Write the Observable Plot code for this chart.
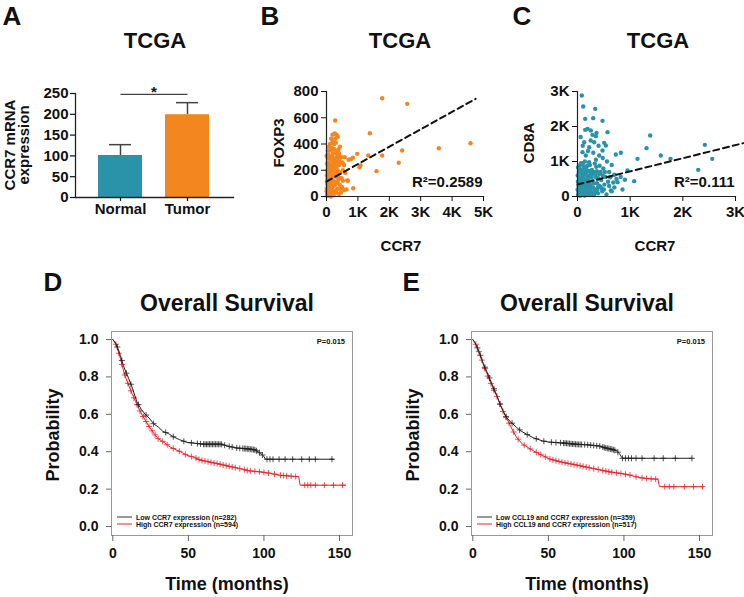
<!DOCTYPE html>
<html><head><meta charset="utf-8">
<script src="https://cdn.jsdelivr.net/npm/d3@7"></script>
<script src="https://cdn.jsdelivr.net/npm/@observablehq/plot@0.6"></script>
<style>
body{margin:0;background:#fff;}
#fig{position:relative;width:744px;height:597px;overflow:hidden;background:#fff;font-family:"Liberation Sans",Arial,sans-serif;font-weight:bold;color:#111;}
.lbl{position:absolute;white-space:nowrap;line-height:1;transform:translate(-50%,-50%);}
.rot{transform:translate(-50%,-50%) rotate(-90deg);text-align:center;}
.box{position:absolute;}
.leg{position:absolute;white-space:nowrap;line-height:1;font-size:7px;transform:translateY(-50%);display:flex;align-items:center;}
.leg span.ln{display:inline-block;width:15px;height:0;border-top:1px solid;margin-right:4px;}
</style></head><body><div id="fig"></div><script>
// ---------- Panel A data ----------
const barCategories = ["Normal", "Tumor"];
const barMeans = [101, 199];
const barErrors = [26, 29];
const barColors = ["#2a93a9", "#f3861f"];
const barYTicks = [0, 50, 100, 150, 200, 250];
const barSignificance = 248;

// ---------- Panel B data (CCR7 vs FOXP3) ----------
const pointsB = [
[1773,749],[2570,706],[277,579],[1380,482],[2410,350],[1773,312],[1330,312],[978,325],[1083,236],[1050,222],
[2300,257],[1592,193],[3577,368],[4586,406],[850,63],[637,53],[659,122],[780,285],[840,295],[580,300],[700,280],
[20,20],[35,45],[50,10],[60,80],[15,110],[80,30],[95,60],[40,150],[70,120],[110,90],[130,20],[25,200],[55,230],
[90,180],[120,140],[150,60],[160,110],[180,30],[200,150],[45,260],[75,290],[100,250],[140,210],[170,190],[190,240],
[210,80],[230,120],[250,170],[260,40],[30,300],[65,320],[115,300],[150,280],[185,310],[220,260],[240,220],[270,250],
[290,190],[300,100],[320,150],[340,60],[360,200],[380,130],[400,240],[420,90],[440,180],[460,30],[480,140],[500,70],
[520,200],[130,350],[170,370],[210,330],[250,360],[290,330],[330,300],[350,270],[390,310],[410,280],[240,400],
[280,440],[320,470],[360,455],[300,410],[200,420],[380,360],[430,380],[260,480],[10,60],[30,90],[10,160],[20,250],
[5,310],[40,350],[80,380],[100,30],[60,5],[140,0],[190,70],[230,10],[270,90],[310,30],[350,110],[30,130],[85,210],
[125,170],[165,230],[205,200],[245,290],[285,280],[330,230],[360,340],[400,330],[440,260],[470,300],[510,260],
[560,240],[600,180],[680,120],[560,50],[520,120],[450,60],[400,20],[110,400],[150,440],[190,470],[90,60],[70,170],
[50,70],[140,100],[180,150],[220,40],[260,210],[300,250],[340,180],[380,60],[420,140],[15,5],[5,40],[45,5],[35,180],[95,120]
];
const fitB = {intercept: 114, slope: 0.1327, xMax: 4750, r2: "0.2589"};
const ticksBx = [0, 1000, 2000, 3000, 4000, 5000];
const ticksBy = [0, 200, 400, 600, 800];

// ---------- Panel C data (CCR7 vs CD8A) ----------
const pointsC = [
[82,2886],[108,2571],[336,2505],[146,2219],[298,2238],[475,2162],[190,1933],[146,1905],[253,1886],[361,1819],
[570,1838],[285,1762],[348,1724],[127,1552],[317,1552],[507,1533],[538,1457],[222,1410],[475,1314],[95,1267],
[158,1171],[412,1171],[728,1200],[823,1248],[1380,1743],[1310,1381],[1139,1076],[1582,1171],[1766,1076],[2418,1476],
[2558,1076],[2292,762],[949,743],[1076,438],[854,200],[760,410],[633,171],
[60,1700],[250,1600],[400,1450],[200,1300],[300,1250],[480,1100],[100,1450],[350,1050],[560,1000],[650,900],
[700,620],[820,560],[600,700],[900,480],
[10,50],[30,120],[50,20],[70,200],[20,300],[90,80],[110,350],[40,420],[60,500],[130,150],[150,260],[170,60],
[190,400],[210,220],[230,600],[80,650],[25,700],[120,760],[160,820],[45,880],[100,950],[200,520],[250,300],
[270,130],[290,450],[310,700],[330,200],[350,550],[370,380],[390,90],[410,640],[430,280],[450,470],[470,150],
[490,800],[510,340],[530,560],[550,60],[580,420],[15,160],[35,240],[55,360],[75,440],[95,560],[115,620],[135,30],
[155,480],[175,700],[195,160],[215,330],[235,900],[255,430],[275,760],[295,260],[315,40],[335,620],[355,850],
[375,180],[395,520],[415,300],[440,700],[460,230],[480,600],[5,600],[12,830],[65,950],[140,1000],[220,980],
[8,420],[18,40],[28,560],[48,780],[58,300],[68,100],[88,740],[108,200],[128,470],[148,650],[168,320],[188,880],
[208,90],[228,420],[248,700],[268,560],[288,50],[308,380],[328,940],[348,120],[368,720],[388,260],[420,880],
[500,200],[520,700],[600,300],[620,550],[650,150],[680,400],[700,260],[740,500],[2,200],[22,450],[42,100],
[62,700],[82,300],[102,520],[122,860],[142,380],[162,140],[182,580],[202,740],[222,40],[242,200],[262,660]
];
const fitC = {intercept: 343, slope: 0.375, xMax: 3150, r2: "0.111"};
const ticksC = [0, 1000, 2000, 3000];

// ---------- Panels D / E survival data [month, probability] ----------
const survDLow = [[0,1],[2,0.98],[3.5,0.95],[5,0.915],[7,0.86],[9,0.82],[10.6,0.79],[13,0.74],[16,0.665],[19,0.625],
[21.5,0.6],[24,0.58],[27,0.55],[30.4,0.53],[33,0.51],[37,0.496],[40,0.48],[44,0.465],[49,0.45],[55,0.445],[60,0.44],
[72,0.44],[76,0.43],[82,0.42],[90,0.415],[94,0.41],[96,0.4],[98,0.39],[100,0.375],[101,0.36],[146,0.36]];
const survDHigh = [[0,1],[2,0.975],[3.5,0.94],[5,0.9],[6.5,0.85],[8.4,0.8],[10.5,0.755],[12.8,0.71],[15,0.67],[17.2,0.63],
[19.5,0.595],[21.6,0.567],[24,0.535],[27,0.5],[30,0.47],[34,0.45],[38,0.425],[42.5,0.408],[46,0.395],[49,0.381],
[54,0.37],[58,0.355],[64,0.345],[71,0.333],[78,0.32],[85,0.308],[90,0.298],[98,0.292],[104,0.285],[111,0.274],
[117,0.27],[123,0.266],[124,0.221],[154,0.221]];
const censDLow = [3,6,9,12,17,22,27,35,40,47,52,56,58,60,61,62,63,64,65,66,67,68,69,70,71,72,74,77,79,82,84,86,87,88,89,90,91,92,93,94,95,97,99,102,104,106,110,114,119,125,130,134,145];
const censDHigh = [2,4,6,8,10,12,14,16,18,20,22,24,26,28,30,33,36,40,44,48,52,55,57,59,61,63,65,67,69,71,73,75,77,79,81,84,87,89,91,94,97,100,103,107,111,113,115,118,121,127,129,131,134,140,146,152];

const survELow = [[0,1],[2,0.975],[4.8,0.92],[7,0.87],[9.2,0.83],[11.5,0.785],[13.6,0.744],[16,0.7],[18,0.655],[20,0.62],
[22.3,0.583],[25,0.56],[29,0.53],[32,0.51],[35.5,0.494],[40,0.475],[46,0.458],[50,0.452],[55,0.449],[62,0.445],
[68,0.44],[76,0.437],[84,0.43],[88,0.42],[92,0.413],[95,0.405],[97,0.39],[98,0.377],[99,0.365],[145,0.365]];
const survEHigh = [[0,1],[2,0.975],[4.8,0.92],[7,0.865],[9.2,0.82],[11.5,0.775],[13.6,0.735],[16,0.695],[18,0.655],
[20,0.615],[22.3,0.58],[24.5,0.545],[26.7,0.51],[29,0.476],[33,0.44],[37,0.42],[42,0.396],[46,0.38],[51,0.361],
[55,0.352],[59.6,0.343],[64,0.336],[68,0.33],[75,0.318],[81,0.308],[86,0.3],[90,0.293],[95,0.287],[99,0.283],
[104,0.275],[110,0.262],[116,0.256],[122.5,0.253],[123.5,0.213],[152.6,0.213]];
const censELow = [3,5,8,11,14,18,22,26,31,36,42,47,52,55,58,60,61,62,63,64,65,66,67,68,69,70,71,72,74,76,78,80,82,84,86,87,88,89,90,91,92,93,94,96,99,101,103,105,108,112,120,126,134,145];
const censEHigh = [2,4,6,8,10,12,14,16,18,20,22,24,27,30,34,38,42,45,48,51,53,55,57,59,61,63,65,67,69,71,73,75,77,80,83,86,88,90,92,95,98,101,104,108,112,115,118,121,127,130,133,140,146,152];

const legendD = ["Low CCR7 expression (n=282)", "High CCR7 expression (n=594)"];
const legendE = ["Low CCL19 and CCR7 expression (n=359)", "High CCL19 and CCR7 expression (n=517)"];
const pValue = "P=0.015";
const survTicksX = [0, 50, 100, 150];
const survTicksY = [0, 0.2, 0.4, 0.6, 0.8, 1.0];

// ---------- helpers ----------
const fig = document.getElementById("fig");
const FONT = '"Liberation Sans", Arial, sans-serif';
function style(size) {
  return {background: "none", overflow: "visible", fontFamily: FONT, fontWeight: "bold", fontSize: size + "px", color: "#111"};
}
function place(svg, left, top) {
  svg.classList.add("box");
  svg.style.left = left + "px";
  svg.style.top = top + "px";
  svg.style.maxWidth = "none";
  fig.appendChild(svg);
}
function label(text, cx, cy, size, rot = false) {
  const d = document.createElement("div");
  d.className = "lbl" + (rot ? " rot" : "");
  d.style.left = cx + "px"; d.style.top = cy + "px"; d.style.fontSize = size + "px";
  d.innerHTML = text;
  fig.appendChild(d);
  return d;
}
function letter(text, cx, cy) {
  const d = label(text, cx, cy, 26);
  d.style.lineHeight = "0.8";
  return d;
}
function legend(items, left, y0, dy) {
  const cols = ["#333", "#e3242b"];
  items.forEach((t, i) => {
    const d = document.createElement("div");
    d.className = "leg";
    d.style.left = left + "px"; d.style.top = (y0 + i * dy) + "px";
    d.innerHTML = `<span class="ln" style="border-color:${cols[i]}"></span>${t}`;
    fig.appendChild(d);
  });
}
const kFmt = d => d === 0 ? "0" : (d / 1000) + "K";
function onCurve(curve, t) {
  for (let i = 1; i < curve.length; i++) {
    const [t0, s0] = curve[i - 1], [t1, s1] = curve[i];
    if (t <= t1) return t1 === t0 ? s1 : s0 + (s1 - s0) * (t - t0) / (t1 - t0);
  }
  return curve[curve.length - 1][1];
}

// ---------- Panel A ----------
const barData = barCategories.map((c, i) => ({cat: c, mean: barMeans[i], err: barErrors[i]}));
place(Plot.plot({
  width: 250, height: 140, marginLeft: 75, marginRight: 17, marginTop: 13, marginBottom: 23,
  x: {domain: barCategories, range: [98, 210], paddingInner: 0.341, paddingOuter: 0},
  y: {domain: [0, 250]},
  color: {domain: barCategories, range: barColors},
  style: style(15),
  marks: [
    Plot.ruleX(barData, {x: "cat", y1: "mean", y2: d => d.mean + d.err, stroke: "#444", strokeWidth: 1.5}),
    Plot.tickY(barData, {x: "cat", y: d => d.mean + d.err, stroke: "#444", strokeWidth: 1.5, insetLeft: 11, insetRight: 11}),
    Plot.barY(barData, {x: "cat", y: "mean", fill: "cat"}),
    Plot.link([barSignificance], {x1: () => barCategories[0], x2: () => barCategories[1], y1: d => d, y2: d => d, stroke: "#444", strokeWidth: 1.2}),
    Plot.frame({anchor: "left", stroke: "#222", strokeWidth: 1.3}),
    Plot.frame({anchor: "bottom", stroke: "#222", strokeWidth: 1.3}),
    Plot.axisY({ticks: barYTicks, tickSize: 5, tickPadding: 2, label: null, strokeWidth: 1.2}),
    Plot.axisX({tickSize: 4, tickPadding: 2, label: null, strokeWidth: 1.2})
  ]
}), 0, 80);
letter("A", 12, 15.5);
label("TCGA", 155, 41, 22);
label("*", 154, 91, 15);
const ya = label("CCR7 mRNA<br>expression", 17, 145, 15, true);
ya.style.lineHeight = "0.92";

// ---------- Scatter panels ----------
function scatter(points, fit, xTicks, yTicks, xDom, yDom, color, r2, opts) {
  const line = [0, fit.xMax].map(x => ({x, y: fit.intercept + fit.slope * x}));
  return Plot.plot({
    width: opts.width, height: 140, marginLeft: opts.ml, marginRight: opts.mr, marginTop: 11, marginBottom: 24,
    x: {domain: xDom}, y: {domain: yDom},
    style: style(15),
    marks: [
      Plot.dot(points, {x: d => d[0], y: d => d[1], r: 2.2, fill: color, stroke: "none"}),
      Plot.line(line, {x: "x", y: "y", stroke: "#111", strokeWidth: 2, strokeDasharray: "6,4", clip: false}),
      Plot.frame({anchor: "left", stroke: "#222", strokeWidth: 1.2}),
      Plot.frame({anchor: "bottom", stroke: "#222", strokeWidth: 1.2}),
      Plot.axisY({ticks: yTicks, tickFormat: opts.yFmt, tickSize: 5, tickPadding: 3, label: null}),
      Plot.axisX({ticks: xTicks, tickFormat: kFmt, tickSize: 5, tickPadding: 5, label: null}),
      Plot.text([r2], {text: d => "R\u00B2=" + d, frameAnchor: "bottom-right", dx: -1, dy: -10, textAnchor: "end", fontSize: 15})
    ]
  });
}
place(scatter(pointsB, fitB, ticksBx, ticksBy, [0, 5000], [0, 800], "#f3861f", fitB.r2,
  {width: 250, ml: 76, mr: 17, yFmt: d => String(d)}), 250, 80);
letter("B", 270, 15.5);
label("TCGA", 400, 41, 22);
label("FOXP3", 278, 143, 15, true);
label("CCR7", 401, 245, 15);

place(scatter(pointsC, fitC, ticksC, ticksC, [0, 3000], [0, 3000], "#2a93a9", fitC.r2,
  {width: 244, ml: 77, mr: 9, yFmt: kFmt}), 500, 80);
letter("C", 522, 15.5);
label("TCGA", 658, 41, 22);
label("CD8A", 528, 143, 15, true);
label("CCR7", 655, 245, 15);

// ---------- Survival panels ----------
function surv(low, high, cLow, cHigh) {
  const ptsLow = cLow.map(t => [t, onCurve(low, t)]);
  const ptsHigh = cHigh.map(t => [t, onCurve(high, t)]);
  return Plot.plot({
    width: 320, height: 245, marginLeft: 71, marginRight: 8, marginTop: 6, marginBottom: 35,
    x: {domain: [-0.86, 158.6]}, y: {domain: [-0.048, 1.043]},
    style: style(14),
    marks: [
      Plot.frame({stroke: "#999", strokeWidth: 1}),
      Plot.line(high, {x: d => d[0], y: d => d[1], stroke: "#e3242b", strokeWidth: 1}),
      Plot.dot(ptsHigh, {x: d => d[0], y: d => d[1], symbol: "plus", r: 2.1, stroke: "#e3242b", strokeWidth: 0.8}),
      Plot.line(low, {x: d => d[0], y: d => d[1], stroke: "#222", strokeWidth: 1}),
      Plot.dot(ptsLow, {x: d => d[0], y: d => d[1], symbol: "plus", r: 2.1, stroke: "#222", strokeWidth: 0.8}),
      Plot.axisY({ticks: survTicksY, tickFormat: d3.format(".1f"), tickSize: 5, tickPadding: 8, label: null, stroke: "#666"}),
      Plot.axisX({ticks: survTicksX, tickSize: 6, tickPadding: 7, label: null, stroke: "#666"})
    ]
  });
}
place(surv(survDLow, survDHigh, censDLow, censDHigh), 40, 325);
place(surv(survELow, survEHigh, censELow, censEHigh), 400, 325);
[[0, legendD], [360, legendE]].forEach(([off, leg]) => {
  letter(off ? "E" : "D", 53 + off * 0.995, 282);
  label("Overall Survival", 227 + off, 303, 23);
  label("Probability", 53 + off, 435, 18, true);
  label("Time (months)", 227 + off, 584, 18);
  const p = label(pValue, 0, 342, 7.5);
  p.style.left = "auto"; p.style.right = (744 - 345 - off) + "px"; p.style.transform = "translateY(-50%)";
  legend(leg, 117 + off, 516.5, 7.8);
});
</script></body></html>
